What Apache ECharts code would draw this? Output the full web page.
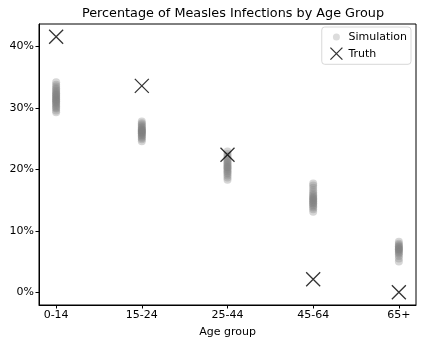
<!DOCTYPE html>
<html><head><meta charset="utf-8">
<script src="https://cdn.jsdelivr.net/npm/echarts@6/dist/echarts.min.js"></script>
<style>html,body{margin:0;padding:0;background:#fff}#c{width:423px;height:345px}</style>
</head><body><div id="c"></div>
<script>
const categories = ['0-14', '15-24', '25-44', '45-64', '65+'];
const truthValues = [41.6, 33.6, 22.4, 2.1, 0.0];
const sim_0_14 = [29.3, 29.6, 29.9, 30.1, 30.3, 30.5, 30.7, 30.8, 31.0, 31.1, 31.3, 31.4, 31.5, 31.7, 31.8, 32.0, 32.1, 32.3, 32.4, 32.6, 32.8, 33.0, 33.2, 33.5, 33.8, 34.2];
const sim_15_24 = [24.6, 24.9, 25.1, 25.3, 25.5, 25.6, 25.8, 25.9, 26.0, 26.1, 26.2, 26.3, 26.4, 26.5, 26.6, 26.8, 26.9, 27.1, 27.3, 27.5, 27.8];
const sim_25_44 = [18.3, 18.7, 19.0, 19.3, 19.5, 19.7, 19.9, 20.1, 20.3, 20.4, 20.6, 20.8, 21.0, 21.2, 21.4, 21.6, 21.9, 22.2, 22.5, 22.9];
const sim_45_64 = [13.1, 13.5, 13.8, 14.0, 14.2, 14.4, 14.5, 14.7, 14.8, 15.0, 15.1, 15.3, 15.4, 15.6, 15.8, 16.0, 16.3, 16.6, 17.0, 17.4, 17.7];
const sim_65 = [5.0, 5.5, 5.9, 6.2, 6.4, 6.6, 6.7, 6.9, 7.0, 7.1, 7.2, 7.4, 7.5, 7.7, 7.9, 8.2];
const yTicks = [0, 10, 20, 30, 40];

const simGroups = [sim_0_14, sim_15_24, sim_25_44, sim_45_64, sim_65];
const simData = [];
simGroups.forEach((g, i) => g.forEach(v => simData.push([i, v])));
const truthData = truthValues.map((v, i) => [i, v]);
const font = 'DejaVu Sans';
const xPath = 'path://M0,0L10,10M10,0L0,10';
const legendX = 'path://M0,0M14,14M1,1L13,13M13,1L1,13';
const legendDot = 'path://M0,0M14,14M3.5,7a3.5,3.5 0 1,0 7,0a3.5,3.5 0 1,0 -7,0Z';
const simColor = 'rgba(128,128,128,0.4)';

const chart = echarts.init(document.getElementById('c'), null, {renderer: 'canvas'});
chart.setOption({
  animation: false,
  textStyle: {fontFamily: font},
  title: {
    text: 'Percentage of Measles Infections by Age Group',
    left: 228, top: 2, textAlign: 'center',
    textStyle: {fontFamily: font, fontSize: 12.8, fontWeight: 'normal', color: '#000'}
  },
  grid: {left: 39, right: 7, top: 24, bottom: 40, show: true, borderColor: '#000', borderWidth: 1, backgroundColor: '#fff'},
  legend: {
    right: 12, top: 27, orient: 'vertical', itemGap: 2,
    itemWidth: 14, itemHeight: 14,
    borderColor: '#d8d8d8', borderWidth: 1, borderRadius: 3, padding: [3, 4, 3, 7],
    textStyle: {fontFamily: font, fontSize: 11, color: '#000'},
    data: [
      {name: 'Simulation', icon: legendDot, itemStyle: {color: 'rgba(128,128,128,0.35)', borderWidth: 0}},
      {name: 'Truth', icon: legendX, itemStyle: {color: 'transparent', borderColor: '#000', borderWidth: 1.3}}
    ]
  },
  xAxis: {
    type: 'value', min: -0.2, max: 4.2,
    name: 'Age group', nameLocation: 'middle', nameGap: 22,
    nameTextStyle: {fontFamily: font, fontSize: 11, color: '#000'},
    splitLine: {show: false},
    axisLine: {show: true, onZero: false, lineStyle: {color: '#000'}},
    axisTick: {show: true, customValues: [0, 1, 2, 3, 4], length: 3.5, lineStyle: {color: '#000'}},
    axisLabel: {customValues: [0, 1, 2, 3, 4], formatter: v => categories[Math.round(v)], fontFamily: font, fontSize: 11, color: '#000', margin: 5}
  },
  yAxis: {
    type: 'value', min: -2.08, max: 43.68,
    splitLine: {show: false},
    axisLine: {show: true, onZero: false, lineStyle: {color: '#000'}},
    axisTick: {show: true, customValues: yTicks, length: 3.5, lineStyle: {color: '#000'}},
    axisLabel: {customValues: yTicks, formatter: v => Math.round(v) + '%', fontFamily: font, fontSize: 11, color: '#000', margin: 5}
  },
  series: [
    {name: 'Simulation', type: 'scatter', data: simData, symbol: 'circle', symbolSize: 8,
     itemStyle: {color: simColor}},
    {name: 'Truth', type: 'scatter', data: truthData, symbol: xPath, symbolSize: 14,
     itemStyle: {color: 'transparent', borderColor: '#000', borderWidth: 1.3}}
  ]
});
</script></body></html>
